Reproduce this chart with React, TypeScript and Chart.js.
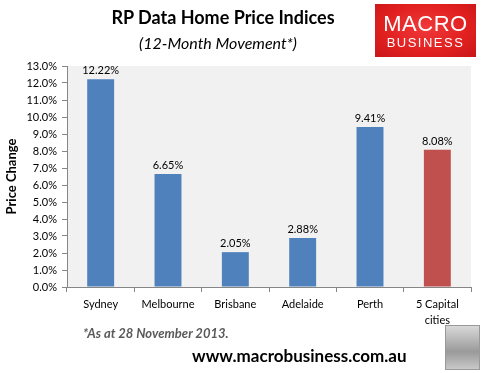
import React, { useEffect, useRef } from "react";
import { Chart, registerables } from "chart.js";

Chart.register(...registerables);

const categories: (string | string[])[] = ["Sydney", "Melbourne", "Brisbane", "Adelaide", "Perth", ["5 Capital", "cities"]];
const values: number[] = [12.22, 6.65, 2.05, 2.88, 9.41, 8.08];
const barColors: string[] = ["#4f81bd", "#4f81bd", "#4f81bd", "#4f81bd", "#4f81bd", "#c0504d"];
const yMin = 0;
const yMax = 13;
const yStep = 1;

const FONT = "Lato, 'Open Sans', sans-serif";

const bgPlugin = {
  id: "plotBg",
  beforeDraw(chart: any) {
    const { ctx, chartArea } = chart;
    ctx.save();
    ctx.fillStyle = "#f1f1f1";
    ctx.fillRect(chartArea.left, chartArea.top, chartArea.right - chartArea.left, chartArea.bottom - chartArea.top);
    ctx.restore();
  },
};

const labelPlugin = {
  id: "barLabels",
  afterDatasetsDraw(chart: any) {
    const { ctx } = chart;
    const meta = chart.getDatasetMeta(0);
    ctx.save();
    ctx.font = `11px ${FONT}`;
    ctx.fillStyle = "#000";
    ctx.textAlign = "center";
    ctx.textBaseline = "bottom";
    meta.data.forEach((el: any, i: number) => {
      ctx.fillText(values[i].toFixed(2) + "%", el.x, el.y - 3);
    });
    ctx.restore();
  },
};

function BarChart() {
  const ref = useRef<HTMLCanvasElement>(null);
  useEffect(() => {
    if (!ref.current) return;
    const chart = new Chart(ref.current, {
      type: "bar",
      data: {
        labels: categories as any,
        datasets: [
          {
            data: values,
            backgroundColor: barColors,
            borderWidth: 0,
            barPercentage: 1,
            categoryPercentage: 0.4,
          },
        ],
      },
      options: {
        animation: false,
        responsive: false,
        maintainAspectRatio: false,
        layout: { padding: { left: 4, right: 13, top: 66, bottom: 0 } },
        plugins: { legend: { display: false }, tooltip: { enabled: false }, title: { display: false } },
        scales: {
          x: {
            offset: true,
            grid: { display: true, offset: true, drawOnChartArea: false, drawTicks: true, tickLength: 5, color: "#868686" },
            border: { display: true, color: "#868686" },
            ticks: { color: "#000", font: { family: FONT, size: 11, lineHeight: 1.5 }, padding: 4, maxRotation: 0, autoSkip: false },
            afterFit(scale: any) {
              scale.height = 86;
            },
          },
          y: {
            min: yMin,
            max: yMax,
            grid: { display: true, drawOnChartArea: false, drawTicks: true, tickLength: 5, color: "#868686" },
            border: { display: true, color: "#868686" },
            ticks: {
              stepSize: yStep,
              color: "#000",
              font: { family: FONT, size: 11 },
              padding: 5,
              callback: (v: any) => Number(v).toFixed(1) + "%",
            },
            title: { display: true, text: "Price Change", color: "#000", font: { family: FONT, size: 13, weight: "bold" }, padding: { top: 0, bottom: 0 } },
            afterFit(scale: any) {
              scale.width = 63;
            },
          },
        },
      },
      plugins: [bgPlugin, labelPlugin],
    });
    return () => chart.destroy();
  }, []);
  return <canvas ref={ref} width={484} height={373} style={{ position: "absolute", left: 0, top: 0, width: 484, height: 373 }} />;
}

export default function App() {
  return (
    <div style={{ position: "fixed", left: 0, top: 0, width: 484, height: 373, background: "#fff", overflow: "hidden", fontFamily: FONT }}>
      <BarChart />
      <div style={{ position: "absolute", left: 0, width: 446, top: 6, textAlign: "center", fontSize: 18, fontWeight: "bold", color: "#000" }}>
        RP Data Home Price Indices
      </div>
      <div style={{ position: "absolute", left: 0, width: 436, top: 33, textAlign: "center", fontSize: 16, fontStyle: "italic", color: "#000" }}>
        (12-Month Movement*)
      </div>
      <div
        style={{
          position: "absolute",
          left: 375,
          top: 4,
          width: 101,
          height: 53,
          background: "radial-gradient(ellipse at 50% 45%, #f0383a 0%, #e0201f 60%, #c8161a 100%)",
          color: "#fff",
          textAlign: "center",
          fontFamily: "'Liberation Sans', Arial, sans-serif",
        }}
      >
        <div style={{ fontSize: 22, lineHeight: "22px", marginTop: 9, letterSpacing: 0.5 }}>MACRO</div>
        <div style={{ fontSize: 13, lineHeight: "15px", letterSpacing: 1.5 }}>BUSINESS</div>
      </div>
      <div style={{ position: "absolute", left: 83, top: 325, fontSize: 13, fontWeight: "bold", fontStyle: "italic", color: "#595959" }}>
        *As at 28 November 2013.
      </div>
      <div style={{ position: "absolute", left: 192, top: 345, fontSize: 17, fontWeight: "bold", color: "#000" }}>
        www.macrobusiness.com.au
      </div>
      <div style={{ position: "absolute", left: 445, top: 325, width: 33, height: 43, border: "1px solid #999", background: "linear-gradient(180deg,#d8d8d8,#9a9a9a 60%,#c8c8c8)" }} />
    </div>
  );
}
